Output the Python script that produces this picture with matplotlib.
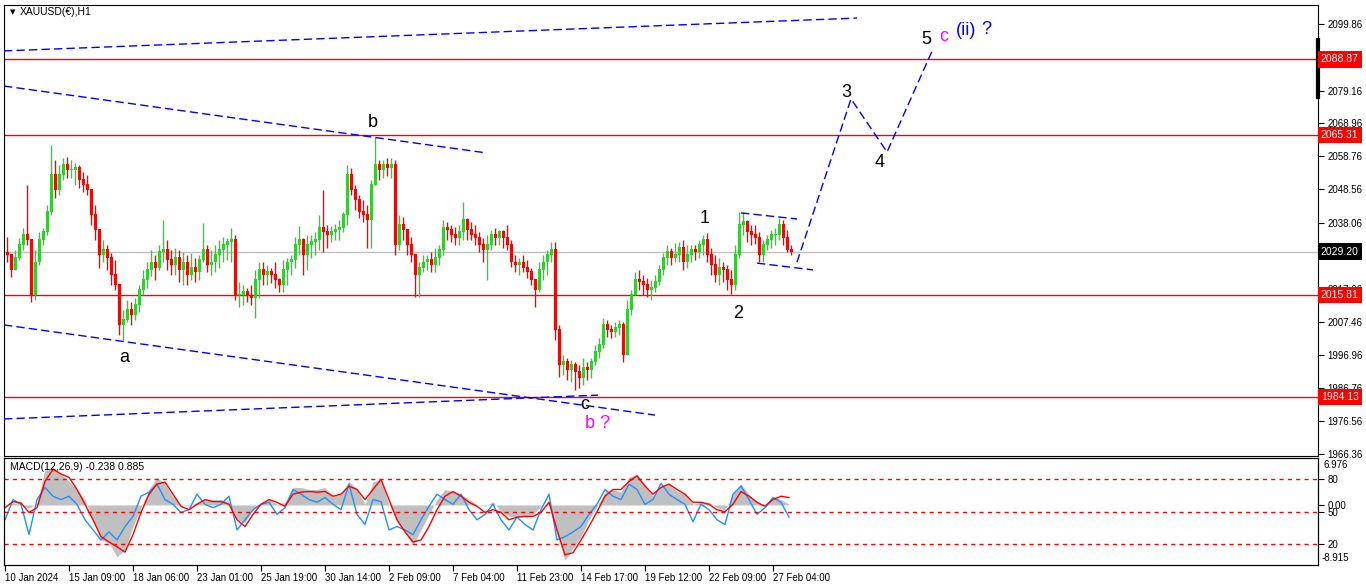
import numpy as np
import matplotlib.pyplot as plt

plt.rcParams['font.family'] = ['Liberation Sans', 'DejaVu Sans']

# XAUUSD H1, grouped 4 bars per candle
first_open = 2029.0
closes = [
    2028.1, 2023.5, 2027.2, 2031.2, 2034.3, 2032.8, 2015.7, 2025.9, 2032.8, 2035.3,
    2041.5, 2053.0, 2048.3, 2053.0, 2056.1, 2054.5, 2054.5, 2055.1, 2051.4, 2049.9,
    2048.3, 2040.5, 2035.9, 2028.1, 2029.7, 2027.2, 2021.9, 2018.8, 2006.4, 2007.9,
    2011.0, 2009.5, 2012.6, 2017.3, 2020.4, 2023.5, 2025.9, 2024.1, 2029.1, 2029.7,
    2026.6, 2025.0, 2027.2, 2023.5, 2025.9, 2021.9, 2024.1, 2022.8, 2026.6, 2029.7,
    2025.0, 2025.9, 2028.1, 2029.7, 2031.2, 2032.2, 2032.8, 2015.7, 2015.7, 2016.6,
    2015.4, 2014.8, 2020.4, 2023.5, 2021.9, 2022.8, 2021.9, 2020.4, 2018.8, 2023.5,
    2025.9, 2026.6, 2031.2, 2032.8, 2028.1, 2031.2, 2032.2, 2032.8, 2036.5, 2035.3,
    2034.3, 2035.3, 2035.9, 2036.5, 2040.5, 2053.0, 2048.3, 2045.2, 2041.5, 2040.5,
    2039.0, 2049.9, 2056.1, 2054.5, 2056.1, 2055.1, 2056.1, 2031.2, 2037.4, 2035.9,
    2031.2, 2028.1, 2021.9, 2024.1, 2025.9, 2026.6, 2025.0, 2027.2, 2029.7, 2036.5,
    2035.9, 2034.3, 2033.4, 2035.3, 2039.0, 2035.9, 2034.3, 2033.4, 2031.2, 2029.7,
    2031.2, 2034.3, 2033.4, 2035.3, 2033.4, 2031.2, 2025.9, 2025.0, 2025.9, 2024.1,
    2022.8, 2020.4, 2017.3, 2023.5, 2025.9, 2028.1, 2029.7, 2004.8, 1994.0, 1994.9,
    1992.4, 1994.0, 1991.8, 1989.9, 1993.0, 1992.4, 1994.9, 1998.0, 2000.2, 2006.4,
    2004.8, 2004.2, 2005.5, 2006.4, 1997.1, 2011.0, 2015.7, 2020.4, 2019.7, 2018.8,
    2017.3, 2017.9, 2019.7, 2023.5, 2027.2, 2029.1, 2027.2, 2028.1, 2030.3, 2025.9,
    2028.1, 2029.7, 2029.1, 2031.2, 2032.8, 2028.1, 2025.0, 2021.9, 2024.1, 2023.5,
    2020.4, 2018.8, 2028.1, 2037.4, 2038.4, 2035.3, 2034.3, 2033.4, 2028.1, 2031.2,
    2032.8, 2034.3, 2034.3, 2037.4, 2033.4, 2029.7, 2029.2]
highs = [
    2033.7, 2028.1, 2029.7, 2033.4, 2036.5, 2049.9, 2032.8, 2029.7, 2035.3, 2036.5,
    2043.6, 2062.3, 2057.6, 2056.1, 2058.2, 2058.6, 2057.6, 2056.7, 2056.1, 2053.9,
    2053.0, 2045.8, 2043.6, 2032.8, 2032.8, 2031.2, 2028.7, 2026.6, 2018.8, 2011.0,
    2014.1, 2013.5, 2014.8, 2018.8, 2023.5, 2025.9, 2029.7, 2028.1, 2031.2, 2039.0,
    2032.8, 2029.7, 2030.3, 2029.7, 2029.1, 2028.1, 2028.7, 2027.2, 2028.1, 2038.1,
    2031.2, 2029.7, 2031.2, 2032.8, 2033.7, 2033.4, 2036.5, 2034.3, 2019.7, 2018.8,
    2017.9, 2018.8, 2023.5, 2025.9, 2025.9, 2025.0, 2024.1, 2025.9, 2021.0, 2026.6,
    2027.2, 2028.1, 2033.7, 2037.1, 2033.4, 2034.3, 2034.3, 2035.3, 2040.5, 2048.3,
    2037.4, 2037.1, 2037.7, 2039.0, 2041.5, 2056.1, 2055.1, 2049.9, 2046.8, 2045.2,
    2043.6, 2051.4, 2064.8, 2057.6, 2057.6, 2058.2, 2058.2, 2057.6, 2040.5, 2039.9,
    2035.9, 2033.7, 2026.6, 2025.9, 2028.1, 2028.1, 2029.1, 2030.3, 2031.2, 2039.0,
    2038.4, 2037.4, 2036.8, 2037.4, 2044.6, 2039.6, 2038.4, 2037.4, 2035.3, 2033.4,
    2034.3, 2035.9, 2036.5, 2035.9, 2035.9, 2037.4, 2032.8, 2028.1, 2027.2, 2028.1,
    2026.6, 2024.1, 2020.4, 2025.9, 2028.1, 2029.7, 2032.2, 2032.2, 2006.4, 1997.1,
    1996.1, 1995.5, 1994.9, 1994.0, 1996.1, 1994.9, 1996.1, 2000.2, 2002.3, 2008.6,
    2007.9, 2006.4, 2007.3, 2007.9, 2007.3, 2014.1, 2017.3, 2022.8, 2023.5, 2021.9,
    2021.0, 2020.4, 2021.9, 2025.0, 2028.7, 2031.2, 2030.3, 2031.8, 2032.2, 2032.8,
    2031.2, 2031.2, 2031.2, 2032.8, 2034.3, 2034.9, 2030.3, 2028.1, 2027.2, 2025.9,
    2025.0, 2023.5, 2031.2, 2041.5, 2041.5, 2039.0, 2037.4, 2037.4, 2035.3, 2032.8,
    2034.3, 2035.9, 2036.5, 2039.6, 2039.0, 2035.9, 2031.2]
lows = [
    2025.9, 2021.3, 2024.1, 2026.6, 2029.7, 2031.2, 2013.5, 2014.1, 2025.0, 2031.2,
    2034.3, 2040.5, 2045.8, 2046.8, 2051.4, 2052.0, 2052.0, 2049.9, 2048.9, 2047.7,
    2046.8, 2037.4, 2032.8, 2024.1, 2025.9, 2023.5, 2018.8, 2017.3, 2003.3, 2001.7,
    2007.3, 2006.4, 2007.9, 2010.4, 2015.7, 2017.9, 2021.6, 2020.4, 2023.5, 2025.9,
    2023.5, 2021.9, 2021.9, 2019.7, 2018.8, 2018.8, 2020.4, 2019.7, 2020.4, 2025.9,
    2022.8, 2021.9, 2022.8, 2024.1, 2025.9, 2026.6, 2025.9, 2014.1, 2012.0, 2012.6,
    2013.5, 2012.6, 2008.6, 2014.8, 2018.8, 2018.8, 2019.4, 2017.9, 2016.6, 2016.6,
    2018.8, 2021.9, 2024.1, 2028.1, 2021.9, 2023.5, 2027.2, 2028.1, 2029.7, 2029.1,
    2030.3, 2032.2, 2032.8, 2032.8, 2035.3, 2037.4, 2046.8, 2042.1, 2039.6, 2038.4,
    2030.3, 2030.3, 2049.9, 2051.4, 2052.0, 2052.7, 2052.0, 2028.1, 2029.7, 2032.8,
    2028.1, 2025.9, 2015.1, 2015.1, 2022.8, 2023.5, 2022.8, 2022.8, 2025.0, 2028.1,
    2032.8, 2032.2, 2031.2, 2031.2, 2032.8, 2032.8, 2032.8, 2031.2, 2029.1, 2025.9,
    2020.4, 2029.7, 2031.2, 2031.2, 2030.3, 2029.7, 2024.4, 2022.8, 2021.9, 2022.8,
    2021.0, 2018.8, 2012.0, 2016.6, 2020.4, 2021.9, 2025.9, 2001.7, 1990.2, 1990.9,
    1989.3, 1988.7, 1986.2, 1986.8, 1987.7, 1989.3, 1989.9, 1994.0, 1996.1, 1999.2,
    2002.7, 2002.3, 2002.7, 2003.3, 1994.9, 1997.1, 2009.5, 2015.7, 2017.3, 2015.7,
    2015.1, 2014.1, 2016.6, 2018.8, 2021.9, 2025.0, 2025.0, 2025.9, 2025.9, 2023.5,
    2024.1, 2025.9, 2026.6, 2027.2, 2028.1, 2025.9, 2021.9, 2019.7, 2018.8, 2019.7,
    2017.3, 2016.0, 2017.3, 2027.2, 2034.3, 2032.2, 2031.2, 2031.5, 2025.9, 2025.9,
    2029.7, 2030.3, 2031.2, 2032.8, 2031.2, 2029.1, 2028.1]

# MACD sub window, one value every 8 bars
macd_fast = [
    -2.2, 0.8, 0.1, -4.4, 0.8, 2.6, 1.3, 0.8, 1.3, 0.1,
    -2.2, -3.7, -5.2, -4.0, -5.2, -3.2, -1.7, 1.3, 1.9, 3.1,
    0.8, 0.1, -1.1, -0.7, 1.6, 0.1, -0.4, 0.1, 1.3, -3.7,
    -2.2, -0.7, 0.1, 0.4, -1.4, -0.4, 2.3, 1.6, 0.8, 0.4,
    1.1, 0.1, -0.7, 3.1, -1.4, -2.9, 0.8, 0.5, -3.7, -3.2,
    -3.7, -4.4, -2.2, -0.2, 1.6, 0.8, 0.1, 1.6, -0.7, -2.2,
    -1.4, 0.1, -2.2, -3.7, -1.8, -2.9, -3.7, -0.7, 1.6, -5.2,
    -4.7, -4.0, -3.2, -1.4, 0.1, 2.3, 1.3, 0.8, 3.1, 2.3,
    0.1, 0.8, 3.2, 1.6, 0.8, 0.1, -2.5, 0.1, -0.7, -2.2,
    -2.9, 1.6, 2.8, 0.8, -1.4, -0.4, 1.1, 0.4, -1.8]
macd_signal = [
    -0.4, 0.5, 0.3, -1.1, -0.4, 3.5, 5.3, 4.6, 4.1, 2.3,
    0.1, -2.2, -4.7, -5.5, -6.2, -7.0, -4.4, -1.1, 1.6, 3.1,
    3.4, 1.6, -0.2, -0.7, 0.1, 0.8, 0.5, 0.5, 0.1, -2.2,
    -3.2, -1.4, 0.1, 0.8, 0.4, -0.2, 1.6, 1.9, 2.0, 1.9,
    2.0, 1.3, 1.6, 2.8, 2.3, 0.8, 2.3, 3.8, 0.8, -2.2,
    -4.0, -5.5, -5.2, -3.2, -0.7, 1.3, 2.0, 1.3, 0.4, -0.2,
    -1.1, -0.7, -1.1, -2.2, -1.8, -1.7, -1.7, -1.1, 0.4, -3.7,
    -7.4, -7.1, -5.2, -3.2, -1.0, 1.3, 2.3, 2.3, 3.5, 4.3,
    2.8, 1.6, 2.6, 3.1, 2.3, 1.6, 0.4, 0.4, 0.1, -0.7,
    -1.0, 0.1, 2.0, 1.3, 0.4, -0.2, 0.8, 1.3, 1.1]
macd_hist = [
    -0.2, 0.3, 0.1, -0.5, 0.3, 5.3, 5.6, 4.6, 3.5, 2.3,
    0.8, -2.2, -5.2, -5.6, -7.7, -6.7, -3.2, -0.4, 2.3, 4.1,
    3.1, 1.3, 0.1, -0.2, 0.4, 0.8, 0.8, 0.8, 0.5, -2.2,
    -2.6, -0.7, 0.1, 0.8, 0.1, 0.4, 2.6, 2.6, 2.3, 2.3,
    2.6, 1.3, 1.6, 3.5, 2.3, 0.1, 3.4, 3.8, 0.1, -2.5,
    -4.1, -6.0, -3.7, -1.4, 0.8, 2.3, 2.0, 1.6, 0.8, 0.1,
    -0.2, 0.5, -1.0, -1.7, -1.7, -1.7, -1.4, -0.2, 0.4, -4.4,
    -8.2, -6.4, -4.7, -2.2, -0.2, 1.9, 2.3, 1.9, 4.1, 4.6,
    3.1, 1.3, 2.8, 3.1, 2.0, 1.6, 0.1, 0.4, 0.4, -0.4,
    -0.7, 1.6, 3.1, 1.6, 0.4, 0.1, 1.3, 0.8, 0.1]

price_ticks = [2099.86, 2089.46, 2079.16, 2068.96, 2058.76, 2048.56, 2038.06,
               2027.86, 2017.66, 2007.46, 1996.96, 1986.76, 1976.56, 1966.36]
level_prices = [2088.87, 2065.31, 2015.81, 1984.13]
last_price = 2029.20
date_labels = ['10 Jan 2024', '15 Jan 09:00', '18 Jan 06:00', '23 Jan 01:00',
               '25 Jan 19:00', '30 Jan 14:00', '2 Feb 09:00', '7 Feb 04:00',
               '11 Feb 23:00', '14 Feb 17:00', '19 Feb 12:00', '22 Feb 09:00',
               '27 Feb 04:00']

# analyst drawings: (bar, price) anchors
channel_top = [(-1, 2091.5), (852, 2101.7)]
line_b = [(-1, 2080.6), (482, 2059.8)]
line_low = [(-1, 2006.4), (650, 1978.4)]
line_rise = [(-1, 1977.2), (593, 1984.6)]
flag_top = [(736, 2041.2), (792, 2039.3)]
flag_bot = [(752, 2025.6), (808, 2023.5)]
projection = [(792, 2025.9), (846, 2076.6), (882, 2060.1), (928, 2092.1)]
wave_labels = [
    ('b', 368, 2069.4, 'black'), ('a', 119, 1996.4, 'black'),
    ('c', 580, 1981.8, 'black'), ('b ?', 593, 1975.9, '#FF00FF'),
    ('1', 700, 2039.6, 'black'), ('2', 733, 2010.1, 'black'),
    ('3', 841, 2078.7, 'black'), ('4', 875, 2057.0, 'black'),
    ('5', 921, 2094.9, 'black'), ('c', 939, 2096.0, '#FF00FF'),
    ('(ii)', 961, 2097.7, '#0000FF'), ('?', 981, 2098.0, '#0000FF')]

W, H = 1366, 588
TICK_FS = 7


def box(l, t, r, b):
    return [l / W, 1 - b / H, (r - l) / W, (b - t) / H]


fig = plt.figure(figsize=(W / 100, H / 100), dpi=100)
ax = fig.add_axes(box(4, 5, 1318, 456))
axm = fig.add_axes(box(4, 458, 1318, 565))

# candles
o = np.r_[first_open, closes[:-1]]
c = np.array(closes)
hi = np.maximum(np.array(highs), np.maximum(o, c))
lo = np.minimum(np.array(lows), np.minimum(o, c))
x = np.arange(len(c)) * 4 + 2
col = np.where(c >= o, '#32CD32', '#FF0000')
ax.vlines(x, lo, hi, colors=col, lw=1, zorder=3)
ax.bar(x, np.abs(c - o) + 0.2, bottom=np.minimum(o, c), width=3.0,
       color=col, lw=0, zorder=3)

for p in level_prices:
    ax.axhline(p, color='red', lw=1, zorder=2)
ax.axhline(last_price, color='#C0C0C0', lw=1, zorder=1)

for seg in [channel_top, line_b, line_low, line_rise, flag_top, flag_bot, projection]:
    xs, ys = zip(*seg)
    ax.plot(xs, ys, color='#0000FF', lw=1, dashes=(6, 3), zorder=4)

for s, bx, py, colr in wave_labels:
    ax.text(bx, py, s, color=colr, fontsize=13, ha='center', va='center', zorder=5)

ax.set_xlim(-1, 1313)
ax.set_ylim(1965.7, 2105.76)
ax.yaxis.tick_right()
ax.set_yticks(price_ticks)
ax.set_yticklabels([f'{p:.2f}' for p in price_ticks])
ax.tick_params(axis='y', length=4, labelsize=TICK_FS, pad=3)
ax.tick_params(axis='x', bottom=False, labelbottom=False)

ytr = ax.get_yaxis_transform()
for p in level_prices:
    ax.text(1.0022, p, f'{p:.2f}', transform=ytr, color='white', fontsize=7.5,
            va='center', ha='left', clip_on=False, zorder=10,
            bbox=dict(boxstyle='square,pad=0.3', fc='red', ec='none'))
ax.text(1.0022, last_price, f'{last_price:.2f}', transform=ytr, color='white',
        fontsize=7.5, va='center', ha='left', clip_on=False, zorder=10,
        bbox=dict(boxstyle='square,pad=0.3', fc='black', ec='none'))
ax.plot([1.0, 1.0], [2077.2, 2094.9], transform=ytr, color='black', lw=3,
        clip_on=False, zorder=9)

fig.text(10 / W, 1 - 12 / H, '\u25bc', fontsize=5, va='center', family='DejaVu Sans')
fig.text(20 / W, 1 - 12 / H, 'XAUUSD(\u20ac),H1', fontsize=7.5, va='center')

# MACD window
xm = np.arange(len(macd_hist)) * 8
axm.fill_between(xm, 0, macd_hist, color='#C0C0C0', lw=0, zorder=1)
axm.plot(xm, macd_fast, color='#1E90FF', lw=1, zorder=2)
axm.plot(xm, macd_signal, color='red', lw=1, zorder=3)
axm.set_xlim(-1, 1313)
axm.set_ylim(-8.915, 6.976)
axm.set_xticks(np.arange(len(date_labels)) * 64)
axm.set_xticklabels(date_labels, ha='left')
axm.tick_params(axis='x', length=4, labelsize=TICK_FS, pad=2)

axl = axm.twinx()
axl.set_ylim(0, 100)
for lv in [20, 50, 80]:
    axl.axhline(lv, color='red', lw=1, dashes=(3, 3))
axl.set_yticks([20, 50, 80])
axl.tick_params(axis='y', length=4, labelsize=TICK_FS, pad=3)

# twinx moves the first axis to the left, put it back on the right
axm.yaxis.tick_right()
axm.set_yticks([0])
axm.set_yticklabels(['0.00'])
axm.tick_params(axis='y', length=4, labelsize=TICK_FS, pad=3)

fig.text(1323 / W, 1 - 465 / H, '6.976', fontsize=TICK_FS, va='center')
fig.text(1322 / W, 1 - 558 / H, '-8.915', fontsize=TICK_FS, va='center')
fig.text(10 / W, 1 - 467 / H, 'MACD(12,26,9) -0.238 0.885', fontsize=7.5, va='center')

fig.savefig('out.png', dpi=100)
